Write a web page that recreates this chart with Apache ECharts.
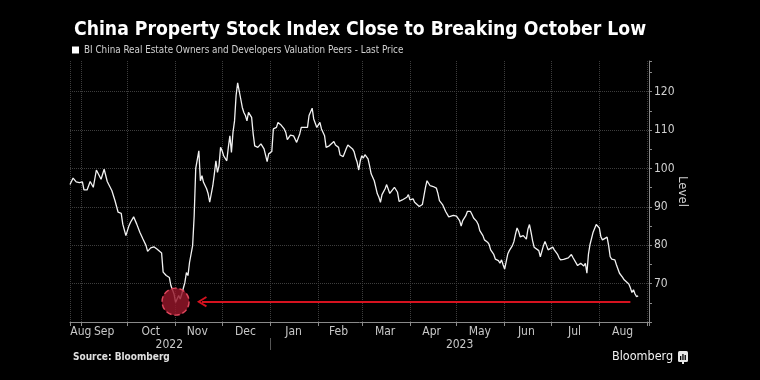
<!DOCTYPE html>
<html><head><meta charset="utf-8">
<script src="https://cdn.jsdelivr.net/npm/echarts@6/dist/echarts.min.js"></script>
<style>html,body{margin:0;padding:0;background:#000}#c{width:760px;height:380px}</style>
</head><body><div id="c"></div>
<script>
const titleText = 'China Property Stock Index Close to Breaking October Low';
const seriesName = 'BI China Real Estate Owners and Developers Valuation Peers - Last Price';
const dates = ['2022-08-25','2022-08-27','2022-08-29','2022-08-31','2022-09-02','2022-09-03','2022-09-05','2022-09-07','2022-09-08','2022-09-09','2022-09-11','2022-09-12','2022-09-14','2022-09-16','2022-09-18','2022-09-21','2022-09-23','2022-09-25','2022-09-27','2022-09-28','2022-09-30','2022-10-02','2022-10-03','2022-10-05','2022-10-07','2022-10-09','2022-10-11','2022-10-13','2022-10-14','2022-10-16','2022-10-18','2022-10-20','2022-10-21','2022-10-23','2022-10-24','2022-10-26','2022-10-28','2022-10-29','2022-10-31','2022-11-01','2022-11-03','2022-11-04','2022-11-05','2022-11-06','2022-11-07','2022-11-08','2022-11-09','2022-11-10','2022-11-11','2022-11-12','2022-11-13','2022-11-14','2022-11-16','2022-11-17','2022-11-18','2022-11-19','2022-11-21','2022-11-22','2022-11-23','2022-11-24','2022-11-25','2022-11-26','2022-11-27','2022-11-28','2022-11-29','2022-11-30','2022-12-01','2022-12-02','2022-12-04','2022-12-05','2022-12-06','2022-12-07','2022-12-08','2022-12-09','2022-12-10','2022-12-11','2022-12-13','2022-12-14','2022-12-15','2022-12-16','2022-12-17','2022-12-18','2022-12-20','2022-12-21','2022-12-22','2022-12-23','2022-12-24','2022-12-26','2022-12-27','2022-12-28','2022-12-30','2022-12-31','2023-01-02','2023-01-03','2023-01-05','2023-01-06','2023-01-08','2023-01-10','2023-01-11','2023-01-12','2023-01-14','2023-01-15','2023-01-16','2023-01-18','2023-01-20','2023-01-21','2023-01-23','2023-01-25','2023-01-26','2023-01-28','2023-01-29','2023-01-31','2023-02-01','2023-02-02','2023-02-03','2023-02-05','2023-02-06','2023-02-07','2023-02-08','2023-02-09','2023-02-11','2023-02-12','2023-02-13','2023-02-14','2023-02-15','2023-02-16','2023-02-17','2023-02-19','2023-02-20','2023-02-21','2023-02-23','2023-02-24','2023-02-25','2023-02-26','2023-02-27','2023-02-28','2023-03-01','2023-03-02','2023-03-03','2023-03-05','2023-03-06','2023-03-07','2023-03-09','2023-03-10','2023-03-11','2023-03-12','2023-03-13','2023-03-14','2023-03-15','2023-03-16','2023-03-17','2023-03-19','2023-03-20','2023-03-22','2023-03-23','2023-03-24','2023-03-25','2023-03-27','2023-03-28','2023-03-30','2023-03-31','2023-04-01','2023-04-02','2023-04-03','2023-04-04','2023-04-05','2023-04-07','2023-04-08','2023-04-09','2023-04-11','2023-04-12','2023-04-14','2023-04-15','2023-04-16','2023-04-18','2023-04-19','2023-04-20','2023-04-22','2023-04-23','2023-04-24','2023-04-26','2023-04-27','2023-04-29','2023-04-30','2023-05-01','2023-05-03','2023-05-04','2023-05-05','2023-05-07','2023-05-08','2023-05-10','2023-05-11','2023-05-12','2023-05-14','2023-05-15','2023-05-16','2023-05-18','2023-05-19','2023-05-21','2023-05-22','2023-05-23','2023-05-25','2023-05-26','2023-05-27','2023-05-28','2023-05-29','2023-05-30','2023-05-31','2023-06-01','2023-06-03','2023-06-04','2023-06-05','2023-06-06','2023-06-07','2023-06-08','2023-06-09','2023-06-10','2023-06-11','2023-06-12','2023-06-13','2023-06-15','2023-06-16','2023-06-17','2023-06-18','2023-06-19','2023-06-20','2023-06-21','2023-06-23','2023-06-24','2023-06-25','2023-06-26','2023-06-27','2023-06-28','2023-06-29','2023-06-30','2023-07-02','2023-07-03','2023-07-05','2023-07-06','2023-07-07','2023-07-09','2023-07-10','2023-07-12','2023-07-13','2023-07-14','2023-07-15','2023-07-16','2023-07-18','2023-07-19','2023-07-20','2023-07-22','2023-07-23','2023-07-24','2023-07-25','2023-07-26','2023-07-27','2023-07-28','2023-07-30','2023-07-31','2023-08-01','2023-08-02','2023-08-03','2023-08-04','2023-08-06','2023-08-07','2023-08-08','2023-08-09','2023-08-11','2023-08-12','2023-08-13','2023-08-14','2023-08-16','2023-08-17','2023-08-18','2023-08-20','2023-08-21','2023-08-22','2023-08-23','2023-08-24','2023-08-25','2023-08-26'];
const values = [95.8,97.5,96.5,96.3,96.5,94.4,94.4,96.6,96.1,95.1,99.6,99.4,97.2,99.8,96.6,94.2,91.6,88.6,88.3,85.5,82.5,85.1,86.0,87.4,85.5,83.4,81.6,79.9,78.4,79.3,79.6,79.0,78.6,78.0,73.0,72.1,71.6,69.5,67.3,65.1,66.9,66.0,67.3,66.9,70.3,72.9,72.1,75.5,76.0,79.9,87.7,100.0,104.6,96.8,98.1,96.4,94.7,93.4,91.2,91.2,95.5,98.6,102.0,99.0,100.7,105.5,104.6,103.3,102.0,105.5,108.5,104.2,109.4,112.4,119.0,122.3,118.1,115.9,114.6,113.8,112.4,114.6,113.3,109.0,105.9,105.5,105.5,106.4,106.4,105.1,101.8,103.8,104.4,110.3,110.7,112.0,111.3,110.3,109.4,107.5,108.7,109.0,108.5,106.8,109.0,110.7,110.7,110.7,113.8,115.7,112.9,110.7,111.1,112.0,110.3,108.5,105.5,105.9,105.9,106.4,107.0,106.1,106.4,105.5,103.5,103.5,103.1,105.2,106.1,105.8,105.1,104.4,102.8,101.6,99.6,102.0,103.3,102.7,103.6,102.5,100.7,98.6,96.8,95.1,93.4,92.5,91.2,93.2,93.4,94.7,95.8,93.5,94.0,95.1,94.9,93.8,91.4,91.8,91.6,92.5,93.2,91.8,91.6,92.1,91.2,90.8,90.1,90.6,90.6,95.1,96.8,95.5,95.1,95.3,94.9,93.5,91.6,90.6,89.7,88.8,87.4,87.7,87.8,87.7,87.6,86.4,85.0,86.4,87.7,88.8,88.8,88.0,87.1,86.2,85.4,83.8,82.5,81.4,80.8,80.2,78.8,77.6,76.4,76.4,76.0,75.3,76.2,74.9,73.8,77.7,78.6,78.2,79.9,81.0,82.9,84.5,83.6,82.2,81.9,82.5,81.6,84.2,85.4,83.4,81.2,79.5,79.3,78.6,77.0,76.7,79.9,81.0,80.8,78.8,79.3,79.5,78.8,77.7,76.8,76.2,76.3,76.0,76.7,76.2,77.6,76.8,76.7,74.7,74.9,75.3,74.6,75.3,72.7,77.7,80.2,80.3,83.4,85.4,85.5,84.5,82.2,81.4,81.9,82.1,79.9,77.0,76.4,76.2,74.9,74.4,72.7,71.6,71.0,71.2,69.9,68.9,67.7,68.4,67.3,66.6,66.8];

const axisStart = '2022-08-25';
const axisEnd = '2023-09-02';
const monthLabels = ['Aug','Sep','Oct','Nov','Dec','Jan','Feb','Mar','Apr','May','Jun','Jul','Aug'];
const monthLabelDates = ['2022-09-01','2022-09-16','2022-10-16','2022-11-15','2022-12-16','2023-01-16','2023-02-14','2023-03-16','2023-04-15','2023-05-16','2023-06-15','2023-07-16','2023-08-16'];
const yearLabels = ['2022','2023'];
const yearLabelDates = ['2022-10-28','2023-05-03'];
const yearBreakDates = ['2023-01-01'];
const yMin = 60, yMax = 128, yInterval = 10;
const yAxisName = 'Level';

// annotation: October low
const lowValue = 65.3;
const circleDate = '2022-11-01';
const arrowFromDate = '2022-11-18';
const arrowToDate = '2023-08-21';

const sourceText = 'Source: Bloomberg';
const brandText = 'Bloomberg';

function ts(s){ const p = s.split('-').map(Number); return new Date(p[0], p[1]-1, p[2]).getTime(); }
const monthTs = monthLabelDates.map(ts);
const yearTs = yearLabelDates.map(ts);
function labelFor(tsArr, labels){
  return function(v){
    let best = 0, bd = Infinity;
    tsArr.forEach((t,i)=>{ const d = Math.abs(t - v); if(d < bd){bd = d; best = i;} });
    return labels[best];
  };
}

const FONT = '"Liberation Sans Narrow", "DejaVu Sans Condensed", Roboto, sans-serif';
const chart = echarts.init(document.getElementById('c'), null, {renderer:'canvas'});
const gridColor = '#3d3d3d';
const axisColor = '#8a8a8a';
const day = 86400000;

chart.setOption({
  backgroundColor: '#000',
  animation: false,
  title: {
    text: titleText, left: 69, top: 16,
    textStyle: {color:'#fff', fontSize: 19.2, fontWeight:'bold', fontFamily: FONT}
  },
  legend: {
    data: [seriesName], left: 72, top: 45, icon: 'rect', itemWidth: 7, itemHeight: 7, itemGap: 4,
    padding: 0, selectedMode: false,
    textStyle: {color:'#d0d0d0', fontSize: 9.8, fontFamily: FONT}
  },
  grid: {left: 70, right: 111, top: 61, bottom: 58, containLabel: false},
  xAxis: [
    {
      type: 'time', position: 'bottom', min: ts(axisStart), max: ts(axisEnd),
      minInterval: 28*day, maxInterval: 31*day,
      axisLine: {show:true, lineStyle:{color: axisColor, width: 1}},
      axisTick: {show:true, length: 4, lineStyle:{color: axisColor}},
      axisLabel: {show:false},
      splitLine: {show:true, lineStyle:{color: gridColor, type:'dotted', width:1}}
    },
    {
      type: 'value', position: 'bottom', min: ts(axisStart), max: ts(axisEnd),
      axisLine:{show:false}, axisTick:{show:false}, splitLine:{show:false},
      axisLabel: {show:true, customValues: monthTs, formatter: labelFor(monthTs, monthLabels),
        color:'#c8c8c8', fontSize: 12, fontFamily: FONT, margin: 4, hideOverlap:false}
    },
    {
      type: 'value', position: 'bottom', offset: 16, min: ts(axisStart), max: ts(axisEnd),
      axisLine:{show:false}, splitLine:{show:false},
      axisTick:{show:true, customValues: yearBreakDates.map(ts), length: 12, lineStyle:{color:'#555'}},
      axisLabel: {show:true, customValues: yearTs, formatter: labelFor(yearTs, yearLabels),
        color:'#c8c8c8', fontSize: 12, fontFamily: FONT, margin: 1, hideOverlap:false}
    }
  ],
  yAxis: {
    type: 'value', position: 'right', min: yMin, max: yMax, interval: yInterval,
    name: yAxisName, nameLocation: 'middle', nameRotate: -90, nameGap: 27, nameMoveOverlap: false,
    nameTextStyle: {color:'#d0d0d0', fontSize: 13, fontFamily: FONT},
    axisLine: {show:true, lineStyle:{color: axisColor}},
    axisTick: {show:true, length: 3, lineStyle:{color: axisColor}},
    minorTick: {show:true, splitNumber: 2, length: 3, lineStyle:{color: axisColor}},
    axisLabel: {color:'#d0d0d0', fontSize: 12, fontFamily: FONT, margin: 5, showMinLabel:false, showMaxLabel:false},
    splitLine: {show:true, showMinLine:false, showMaxLine:false, lineStyle:{color: gridColor, type:'dotted'}}
  },
  series: [{
    name: seriesName, type: 'line', xAxisIndex: 0,
    data: dates.map((d,i)=>[ts(d), values[i]]),
    showSymbol: false, symbol: 'none',
    itemStyle: {color:'#fff'},
    lineStyle: {color:'#f2f2f2', width: 1.3},
    z: 2,
    markLine: {
      silent: true, animation: false,
      symbol: ['path://M5,0 L10,9 L8.6,10 L5,3.4 L1.4,10 L0,9 Z', 'none'],
      symbolSize: [11, 10],
      label: {show:false},
      lineStyle: {color:'#d6121f', width: 2, type:'solid'},
      data: [[{coord:[ts(arrowFromDate), lowValue]}, {coord:[ts(arrowToDate), lowValue]}]]
    },
    markPoint: {
      silent: true, animation: false,
      symbol: 'circle', symbolSize: 27,
      label: {show:false},
      itemStyle: {color:'rgba(150,22,42,0.82)', borderColor:'#e0485e', borderWidth:1.4, borderType:'dashed'},
      data: [{coord:[ts(circleDate), lowValue]}]
    }
  }],
  graphic: [
    {type:'text', left: 73, top: 352, style:{text: sourceText, fill:'#e0e0e0', font:'bold 10px ' + FONT}},
    {type:'text', left: 612, top: 350, style:{text: brandText, fill:'#f0f0f0', font:'500 12.5px ' + FONT}},
    {type:'group', left: 678, top: 351, children:[
      {type:'rect', shape:{x:0,y:0,width:10,height:11,r:1.5}, style:{fill:'#e8e8e8'}},
      {type:'rect', shape:{x:2,y:5,width:1.3,height:4}, style:{fill:'#000'}},
      {type:'rect', shape:{x:4.3,y:3,width:1.3,height:6}, style:{fill:'#000'}},
      {type:'rect', shape:{x:6.6,y:4,width:1.3,height:5}, style:{fill:'#000'}},
      {type:'rect', shape:{x:4,y:11,width:2,height:2}, style:{fill:'#e8e8e8'}}
    ]}
  ]
});
</script>
</body></html>
